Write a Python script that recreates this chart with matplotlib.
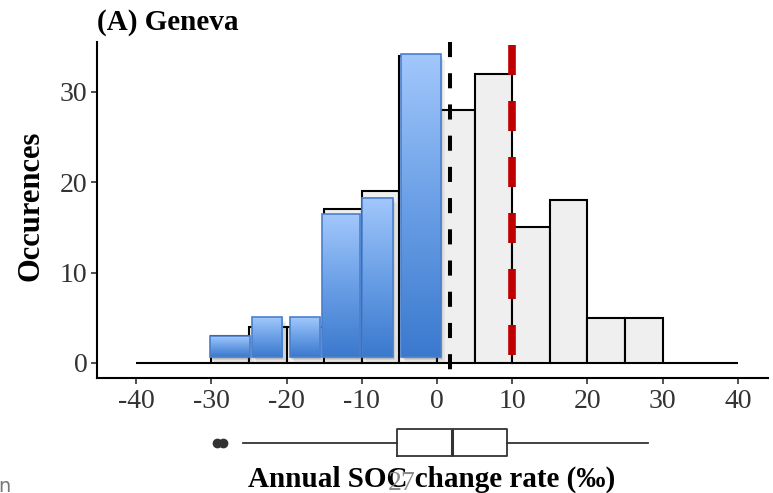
import numpy as np
import matplotlib
matplotlib.use("Agg")
import matplotlib.pyplot as plt
from matplotlib.patches import Rectangle
from matplotlib.colors import LinearSegmentedColormap

# ---- data -------------------------------------------------------------
bin_edges = list(range(-40, 45, 5))
counts = [0, 0, 3, 4, 4, 17, 19, 34, 28, 32, 15, 18, 5, 5, 0, 0]

# highlighted (losing) sites, drawn as an overlay on the negative bins
loss_left = [-30.2, -24.6, -19.6, -15.3, -10.0, -4.8]
loss_right = [-24.9, -20.6, -15.6, -10.2, -5.9, 0.5]
loss_counts = [3.0, 5.1, 5.1, 16.5, 18.3, 34.2]
loss_base = 0.7

median_rate = 1.7
target_rate = 10.0
target_span = [0.9, 35.2]

# summary of the distribution for the boxplot
box_stats = dict(whislo=-25.8, q1=-5.3, med=2.0, q3=9.3, whishi=28.0,
                 fliers=[-29.3, -28.4])

x_ticks = [-40, -30, -20, -10, 0, 10, 20, 30, 40]
y_ticks = [0, 10, 20, 30]

# ---- figure -----------------------------------------------------------
W, H = 773, 493
fig = plt.figure(figsize=(W / 100, H / 100), dpi=100)
plt.rcParams['font.family'] = ['Liberation Serif', 'DejaVu Serif']


def frac(x0, y0, x1, y1):
    return [x0 / W, 1 - y1 / H, (x1 - x0) / W, (y1 - y0) / H]


ax = fig.add_axes(frac(97, 42, 768, 378))
xlim = (-45.2, 44.0)
ylim = (-1.66, 35.5)

# histogram
widths = np.diff(bin_edges)
ax.bar(bin_edges[:-1], counts, width=widths, align='edge',
       color='#efefef', edgecolor='black', linewidth=1.5, zorder=2)

# gradient-filled overlay with a soft drop shadow
cmap = LinearSegmentedColormap.from_list('loss', ['#3b79ce', '#6a9fe6', '#a2c7fc'])
grad = np.linspace(0, 1, 256).reshape(-1, 1)
for l, r, h in zip(loss_left, loss_right, loss_counts):
    for k, a in zip([0.55, 0.35, 0.18], [0.08, 0.12, 0.18]):
        ax.add_patch(Rectangle((l + k, loss_base - k * 1.2), r - l, h - loss_base,
                               facecolor='#555555', edgecolor='none',
                               alpha=a, zorder=3))
    ax.imshow(grad, extent=[l, r, loss_base, h], origin='lower', cmap=cmap,
              aspect='auto', zorder=4, interpolation='bilinear')
    ax.add_patch(Rectangle((l, loss_base), r - l, h - loss_base,
                           facecolor='none', edgecolor='#4a80cc',
                           linewidth=1.2, zorder=5))

# median and target reference lines
ax.plot([median_rate, median_rate], [1, 0], transform=ax.get_xaxis_transform(),
        color='black', lw=2.9, dashes=(3.75, 4.0), zorder=6, clip_on=False)
ax.plot([target_rate, target_rate], [target_span[1], target_span[0]],
        color='#c00000', lw=5.5, dashes=(3.93, 3.4), zorder=6)

ax.set_xlim(*xlim)
ax.set_ylim(*ylim)
ax.set_xticks(x_ticks)
ax.set_yticks(y_ticks)
ax.set_xticklabels([str(t) for t in x_ticks])
for s in ['top', 'right']:
    ax.spines[s].set_visible(False)
for s in ['left', 'bottom']:
    ax.spines[s].set_linewidth(1.5)
ax.tick_params(axis='both', length=4, width=1.2, color='#333333',
               labelsize=20, labelcolor='#333333')
ax.tick_params(axis='x', pad=4)
ax.tick_params(axis='y', pad=3)

# boxplot strip
bax = fig.add_axes(frac(97, 420, 768, 465))
bax.bxp([box_stats], positions=[0.5], widths=0.6, vert=False,
        showcaps=False,
        boxprops=dict(color='#333333', linewidth=1.3),
        whiskerprops=dict(color='#333333', linewidth=1.3),
        medianprops=dict(color='#333333', linewidth=2.2),
        flierprops=dict(marker='o', markersize=6, markerfacecolor='#333333',
                        markeredgecolor='#333333'))
bax.set_xlim(*xlim)
bax.set_ylim(0, 1)
bax.axis('off')

# text
fig.text(97 / W, 1 - 22 / H, '(A) Geneva', fontsize=21, fontweight='bold',
         ha='left', va='center')
fig.text(31 / W, 1 - 206 / H, 'Occurences', fontsize=22, fontweight='bold',
         rotation=90, ha='center', va='center')
fig.text(432 / W, 1 - 479 / H, 'Annual SOC change rate (‰)', fontsize=21,
         fontweight='bold', ha='center', va='center')
fig.text(402 / W, 1 - 484 / H, '27', fontsize=20, color='#8a8a8a',
         ha='center', va='center')
fig.text(-2 / W, 1 - 487 / H, 'n', fontsize=14, color='#777777',
         ha='left', va='center', family='DejaVu Sans')

fig.savefig('out.png', dpi=100)
